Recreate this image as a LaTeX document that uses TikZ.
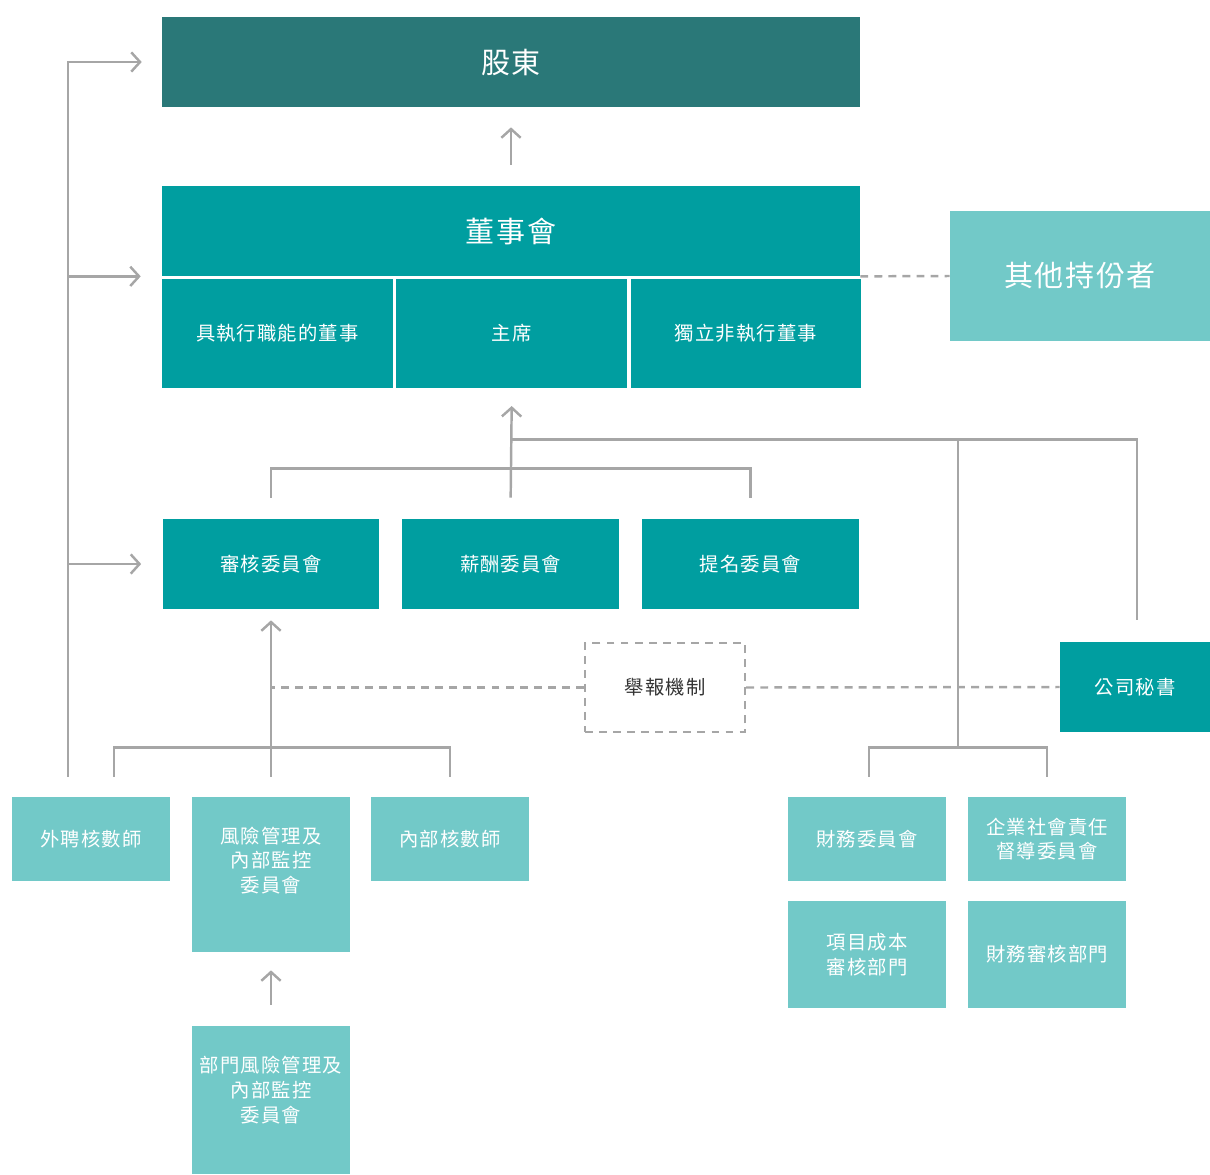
\documentclass[tikz,border=0pt]{standalone}
\usepackage{fontspec}
\setmainfont{Noto Sans CJK TC}[LetterSpace=6]
\usetikzlibrary{arrows.meta,positioning,calc}
\definecolor{darkteal}{RGB}{42,120,120}
\definecolor{midteal}{RGB}{0,158,160}
\definecolor{lightteal}{RGB}{114,201,200}
\definecolor{linegray}{RGB}{166,166,166}
\definecolor{textgray}{RGB}{51,51,51}

\begin{document}
\begin{tikzpicture}[x=0.02cm,y=-0.02cm,node distance=0.44cm,
  every node/.style={inner sep=0pt,align=center,font=\fontsize{11}{14}\selectfont},
  big/.style={font=\fontsize{16.5}{20}\selectfont},
  midbox/.style={fill=midteal,text=white},
  lightbox/.style={fill=lightteal,text=white,minimum width=3.16cm},
  lighttext/.style={text=white},
  gl/.style={draw=linegray,line width=1.4pt},
  ar/.style={gl,-{Straight Barb[length=5pt,width=11pt]}},
  dl/.style={gl,dash pattern=on 4.5pt off 3.5pt}]
\useasboundingbox (0,0) rectangle (1210,1174);

\node[fill=darkteal,text=white,big,minimum width=13.96cm,minimum height=1.8cm] (share) at (511,62) {股東};
\node[midbox,big,minimum width=13.96cm,minimum height=1.8cm] (board) at (511,231) {董事會};
\node[midbox,minimum width=4.613cm,minimum height=2.18cm,below right=0.04cm and 0cm of board.south west] (exec) {具執行職能的董事};
\node[midbox,minimum width=4.613cm,minimum height=2.18cm,right=0.06cm of exec] (chair) {主席};
\node[midbox,minimum width=4.613cm,minimum height=2.18cm,right=0.06cm of chair] (ined) {獨立非執行董事};
\node[fill=lightteal,text=white,big,minimum width=5.2cm,minimum height=2.6cm] (others) at (1080,276) {其他持份者};

\node[midbox,minimum width=4.34cm,minimum height=1.8cm] (audc) at (271,564) {審核委員會};
\node[midbox,minimum width=4.34cm,minimum height=1.8cm,right=0.44cm of audc] (remc) {薪酬委員會};
\node[midbox,minimum width=4.34cm,minimum height=1.8cm,right=0.44cm of remc] (nomc) {提名委員會};

\node[dl,text=textgray,minimum width=3.2cm,minimum height=1.78cm] (whistle) at (665,687.5) {舉報機制};
\node[midbox,minimum width=3cm,minimum height=1.8cm] (cosec) at (1135,687) {公司秘書};

\node[lightbox,minimum height=1.68cm] (ext) at (91,839) {外聘核數師};
\node[lightbox,minimum height=3.1cm] (risk) at (271,874.5) {};
\node[lighttext] (risktext) at ($(risk)+(0,-14)$) {風險管理及\\內部監控\\委員會};
\node[lightbox,minimum height=1.68cm] (intaud) at (450,839) {內部核數師};
\node[lightbox,minimum height=2.96cm] (deprisk) at (271,1100) {};
\node[lighttext] (deprisktext) at ($(deprisk)+(0,-10)$) {部門風險管理及\\內部監控\\委員會};

\node[lightbox,minimum height=1.68cm] (finc) at (867,839) {財務委員會};
\node[lightbox,minimum height=1.68cm] (csr) at (1047,839) {企業社會責任\\督導委員會};
\node[lightbox,minimum height=2.14cm] (projc) at (867,954.5) {項目成本\\審核部門};
\node[lightbox,minimum height=2.14cm] (finaud) at (1047,954.5) {財務審核部門};

\draw[ar] ($(board.north)+(0,-21)$) -- ($(share.south)+(0,20)$);
\draw[dl] (board.south east) -- (others.west);
\draw[gl] ($(audc.north)+(0,-21)$) |- ($(nomc.north)+(0,-50)$) -- ++(0,29);
\draw[ar] ($(remc.north)+(0,-21)$) -- ($(chair.south)+(0,18)$);
\coordinate (cs) at ($(remc.north)+(0,-79)$);
\draw[gl] (cs) -| ($(cosec.north)+(2,-22)$);
\draw[gl] ($(finc.north)+(2,-20)$) |- ($(csr.north)+(0,-49)$) -- ++(0,29);
\coordinate (fm) at ($(finc.north)!.5!(csr.north)+(1,-49)$);
\draw[gl] (fm) -- (fm |- cs);

\coordinate (trunk) at ($(ext.north)+(-23,-20)$);
\draw[ar] (trunk) |- ($(share.west)+(-20,0)$);
\draw[ar] (trunk |- board.south west) -- ($(board.south west)+(-21,0)$);
\draw[ar] (trunk |- audc.west) -- ($(audc.west)+(-21,0)$);
\draw[gl] ($(ext.north)+(23,-20)$) |- ($(intaud.north)+(0,-49)$) -- ++(0,29);
\draw[ar] ($(risk.north)+(0,-20)$) -- ($(audc.south)+(0,11)$);
\draw[dl] (whistle.west) -- (whistle.west -| risk.north);
\draw[dl] (whistle.east) -- (cosec.west);
\draw[ar] ($(deprisk.north)+(0,-21)$) -- ($(risk.south)+(0,18)$);

\end{tikzpicture}
\end{document}
